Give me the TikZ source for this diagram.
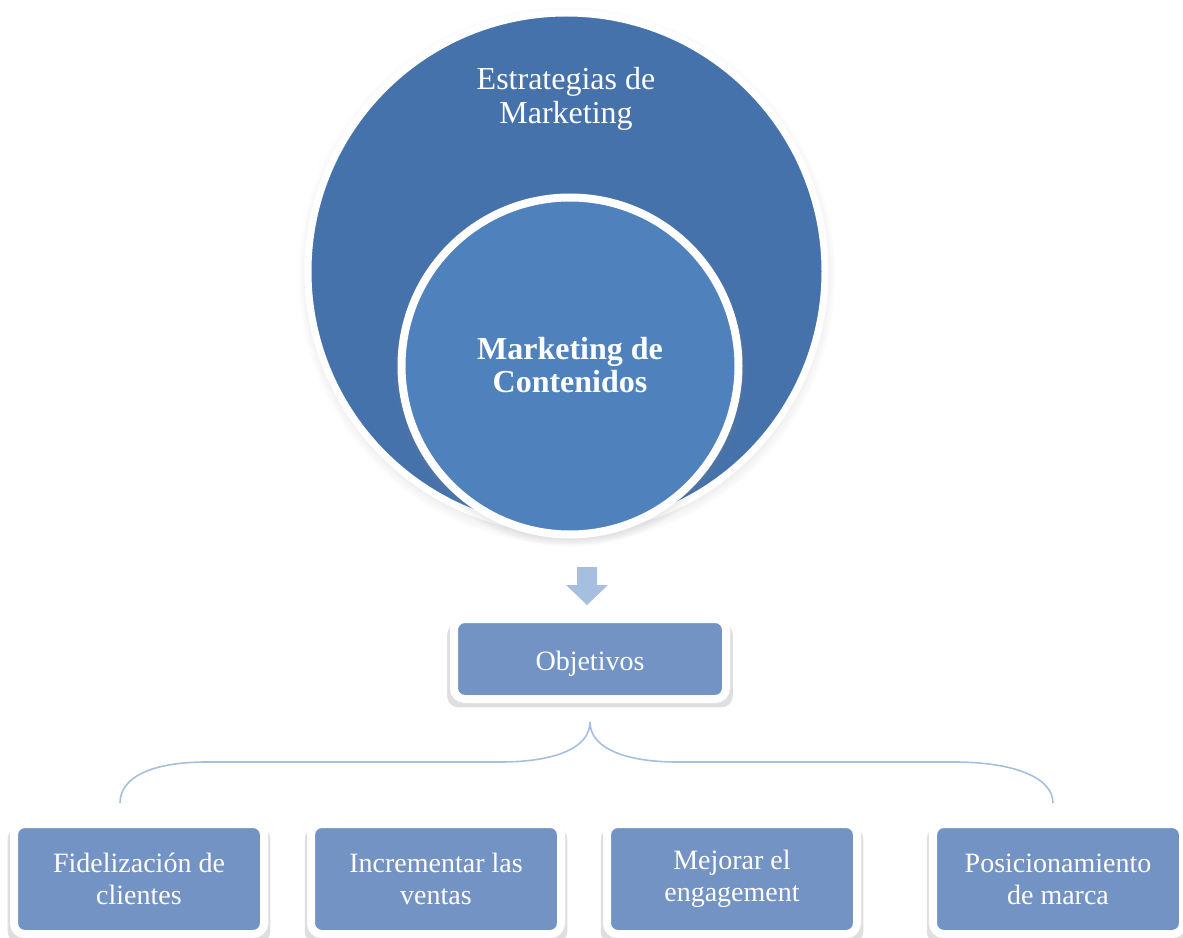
\documentclass[tikz,border=0pt]{standalone}
\usepackage{fontspec}
\setmainfont{Liberation Serif}
\usetikzlibrary{positioning, shadows}

\definecolor{outerblue}{HTML}{4672AB}
\definecolor{innerblue}{HTML}{4F81BD}
\definecolor{boxblue}{HTML}{7293C3}
\definecolor{lightblue}{HTML}{A7BFDE}

\begin{document}
\begin{tikzpicture}[
    x=0.75pt, y=-0.75pt,
    % Clean styles
    bigcircle/.style={
        circle,
        inner sep=0pt,
        draw=white,
        line width=5.25pt,
        fill=outerblue,
        minimum size=387.75pt,
        circular drop shadow={shadow xshift=0pt, shadow yshift=-3pt, shadow scale=1.04, opacity=0.45}
    },
    smallcircle/.style={
        circle,
        inner sep=0pt,
        draw=white,
        line width=6pt,
        fill=innerblue,
        minimum size=252.75pt,
        circular drop shadow={shadow xshift=0pt, shadow yshift=-3pt, shadow scale=1.05, opacity=0.45}
    },
    circletext/.style={
        text=white,
        align=center,
        font=\fontsize{24}{25}\selectfont
    },
    goalbox/.style={
        rectangle,
        rounded corners=8pt,
        draw=white,
        line width=6pt,
        fill=boxblue,
        text=white,
        align=center,
        font=\fontsize{21}{24}\selectfont,
        execute at begin node={\rule{0pt}{22pt}},
        drop shadow={shadow xshift=0pt, shadow yshift=-4.5pt, shadow scale=1.05, opacity=0.25}
    },
    brace/.style={
        draw=lightblue,
        line width=1.2pt
    }
]
\useasboundingbox (0,0) rectangle (1183,938);

% === Top: nested circles ===
\node[bigcircle] (estrategias) at (566.5,271.5) {};
\node[circletext] (estrategiasText) at (566,99) {Estrategias de\\Marketing};
\node[smallcircle] (contenidos) at (570,366) {};
\node[circletext, font=\fontsize{24}{25}\selectfont\bfseries] (contenidosText) at (570,365)
    {Marketing de\\Contenidos};

% === Down arrow ===
\fill[lightblue] (577,567) -- (597,567) -- (597,585) -- (608,585) -- (587,605)
    -- (566,585) -- (577,585) -- cycle;

% === Middle: goals ===
\node[goalbox, minimum width=204pt, minimum height=60pt] (objetivos) at (590,659) {Objetivos};

% === Bottom: goal list ===
\node[goalbox, minimum width=187.5pt, minimum height=82.5pt] (fidelizacion) at (139,879)
    {Fidelización de\\clientes};
\node[goalbox, minimum width=187.5pt, minimum height=82.5pt] (ventas) at (436,879)
    {Incrementar las\\ventas};
\node[goalbox, minimum width=187.5pt, minimum height=82.5pt] (engagement) at (732,879)
    {Mejorar el\\engagement};
\node[goalbox, minimum width=187.5pt, minimum height=82.5pt] (marca) at (1058,879)
    {Posicionamiento\\de marca};

% === Brace ===
\coordinate (cusp) at (590,722);
\coordinate (braceL) at (120,803);
\coordinate (braceR) at (1053,803);
\draw[brace] (cusp) .. controls (590,748) and (555,762) .. (500,762) -- (207,762)
    .. controls (150,762) and (120,778) .. (braceL);
\draw[brace] (cusp) .. controls (590,748) and (625,762) .. (677,762) -- (954,762)
    .. controls (1015,762) and (1053,778) .. (braceR);

\end{tikzpicture}
\end{document}
